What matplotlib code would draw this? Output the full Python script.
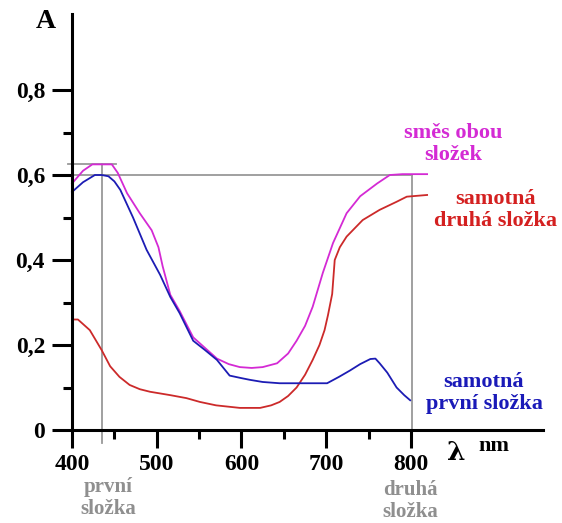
import matplotlib
matplotlib.use("Agg")
import matplotlib.pyplot as plt
from matplotlib.ticker import FixedLocator, FixedFormatter

# ---- data ----
blue_nm = [400, 413, 427, 435, 443, 450, 457, 472, 488, 504, 516, 527, 543, 557, 571, 586,
           600, 610, 625, 645, 670, 701, 715, 728, 740, 752, 758, 763, 772, 783, 792, 799]
blue_A = [0.56, 0.583, 0.60, 0.60, 0.597, 0.585, 0.565, 0.50, 0.424, 0.365, 0.313, 0.275, 0.21,
          0.188, 0.165, 0.128, 0.122, 0.118, 0.113, 0.11, 0.11, 0.11, 0.125, 0.14, 0.155,
          0.167, 0.168, 0.157, 0.135, 0.10, 0.082, 0.07]

mix_nm = [400, 413, 424, 435, 447, 454, 465, 480, 494, 502, 507, 516, 527, 543, 557, 571,
          585, 598, 612, 625, 642, 655, 665, 675, 684, 696, 708, 724, 740, 760, 775, 790, 819]
mix_A = [0.58, 0.61, 0.625, 0.625, 0.625, 0.605, 0.557, 0.51, 0.47, 0.43, 0.385, 0.318,
         0.28, 0.218, 0.193, 0.168, 0.155, 0.148, 0.146, 0.148, 0.157, 0.18, 0.21, 0.245,
         0.29, 0.37, 0.44, 0.51, 0.55, 0.58, 0.60, 0.602, 0.602]

red_nm = [400, 407, 421, 435, 445, 456, 468, 480, 492, 516, 535, 551, 570, 598, 622, 635,
          645, 655, 665, 675, 684, 692, 698, 702, 707, 710, 716, 724, 743, 763, 783, 795, 819]
red_A = [0.26, 0.26, 0.235, 0.188, 0.15, 0.125, 0.106, 0.096, 0.09, 0.082, 0.075, 0.066,
         0.058, 0.052, 0.052, 0.058, 0.066, 0.08, 0.10, 0.13, 0.165, 0.2, 0.235, 0.27, 0.32,
         0.40, 0.43, 0.455, 0.494, 0.518, 0.537, 0.549, 0.553]

y_major = [0, 0.2, 0.4, 0.6, 0.8]
y_labels = ["0", "0,2", "0,4", "0,6", "0,8"]
y_minor = [0.1, 0.3, 0.5, 0.7]
x_major = [400, 500, 600, 700, 800]
x_labels = ["400", "500", "600", "700", "800"]
x_minor = [450, 550, 650, 750]

peak1_nm = 435
peak2_nm = 801
mix_level = 0.6
mix_peak = 0.627

# ---- figure ----
W, H = 562, 523
fig = plt.figure(figsize=(W / 100, H / 100), dpi=100)
fig.patch.set_facecolor("white")

def fx(px):
    return px / W

def fy(py):
    return 1 - py / H

left_px, right_px, bottom_px, top_px = 72, 543, 430, 14
ax = fig.add_axes([fx(left_px), fy(bottom_px), (right_px - left_px) / W,
                   (bottom_px - top_px) / H])
ax.set_xlim(400, 400 + (right_px - left_px) / 0.8475)
ax.set_ylim(0, (bottom_px - top_px) / 425)

serif = "Liberation Serif"

for s in ["top", "right"]:
    ax.spines[s].set_visible(False)
for s in ["left", "bottom"]:
    ax.spines[s].set_linewidth(2.2)
    ax.spines[s].set_zorder(5)

ax.yaxis.set_major_locator(FixedLocator(y_major))
ax.yaxis.set_major_formatter(FixedFormatter(y_labels))
ax.yaxis.set_minor_locator(FixedLocator(y_minor))
ax.xaxis.set_major_locator(FixedLocator(x_major))
ax.xaxis.set_major_formatter(FixedFormatter(x_labels))
ax.xaxis.set_minor_locator(FixedLocator(x_minor))

ax.tick_params(axis="y", which="major", length=14.4, width=2.2, pad=5)
ax.tick_params(axis="y", which="minor", length=6.5, width=2.2)
ax.tick_params(axis="x", which="major", length=13, width=2.2, pad=4)
ax.tick_params(axis="x", which="minor", length=6.5, width=2.2)
for lab in ax.get_xticklabels() + ax.get_yticklabels():
    lab.set_fontfamily(serif)
    lab.set_fontweight("bold")
    lab.set_fontsize(17)

gray = "#999999"
# guide lines
ax.plot([peak1_nm, peak1_nm], [-0.03, mix_peak], color=gray, lw=1.3, clip_on=False, zorder=1)
ax.plot([peak2_nm, peak2_nm], [0, mix_level], color=gray, lw=1.3, clip_on=False, zorder=1)
ax.plot([398, peak2_nm], [mix_level, mix_level], color=gray, lw=1.3, clip_on=False, zorder=1)
ax.plot([395, 452], [mix_peak, mix_peak], color=gray, lw=1.3, clip_on=False, zorder=1)

# curves
ax.plot(red_nm, red_A, color="#cc2a2a", lw=1.3, zorder=3, clip_on=False)
ax.plot(mix_nm, mix_A, color="#d42ad4", lw=1.3, zorder=3, clip_on=False)
ax.plot(blue_nm, blue_A, color="#1c1cb4", lw=1.3, zorder=4, clip_on=False)

# texts
fig.text(fx(46), fy(21), "A", fontfamily=serif, fontweight="bold", fontsize=20,
         ha="center", va="center")
fig.text(fx(456), fy(452), "λ", fontfamily="DejaVu Serif", fontweight="bold", fontsize=19,
         ha="center", va="center")
fig.text(fx(494), fy(446), "nm", fontfamily=serif, fontweight="bold", fontsize=16,
         ha="center", va="center")

gtxt = "#8f8f8f"
fig.text(fx(108), fy(498), "první\nsložka", color=gtxt, fontfamily=serif, fontweight="bold",
         fontsize=15, ha="center", va="center", linespacing=1.15)
fig.text(fx(410), fy(501), "druhá\nsložka", color=gtxt, fontfamily=serif, fontweight="bold",
         fontsize=15, ha="center", va="center", linespacing=1.15)

fig.text(fx(453), fy(144), "směs obou\nsložek", color="#d42ad4", fontfamily=serif,
         fontweight="bold", fontsize=16, ha="center", va="center", linespacing=1.1)
fig.text(fx(495), fy(210), "samotná\ndruhá složka", color="#d42020", fontfamily=serif,
         fontweight="bold", fontsize=16, ha="center", va="center", linespacing=1.1)
fig.text(fx(484), fy(393), "samotná\nprvní složka", color="#1a1ab8", fontfamily=serif,
         fontweight="bold", fontsize=16, ha="center", va="center", linespacing=1.1)

fig.savefig("out.png", dpi=100, facecolor="white")
